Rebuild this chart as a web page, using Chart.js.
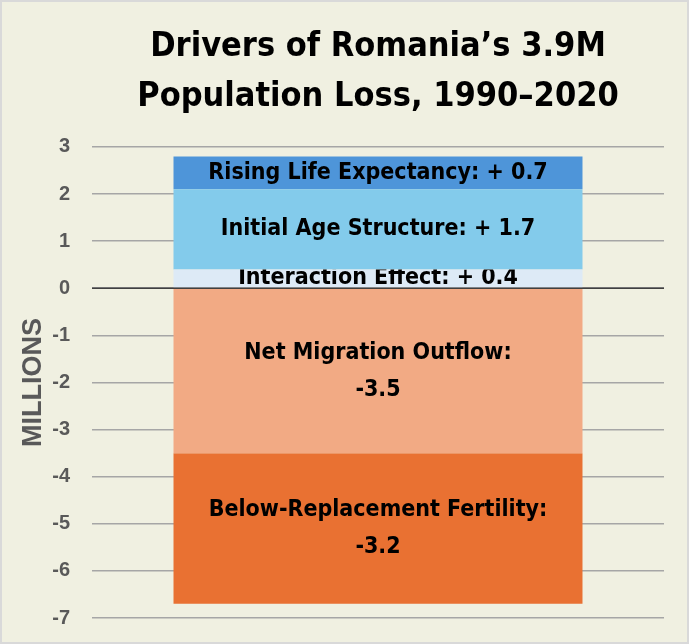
<!DOCTYPE html>
<html>
<head>
<meta charset="utf-8">
<script src="https://cdn.jsdelivr.net/npm/chart.js@4.4.1/dist/chart.umd.min.js"></script>
<style>
  html, body { margin: 0; padding: 0; background: #ffffff; }
  #wrap {
    width: 689px; height: 644px; box-sizing: border-box;
    border: 2px solid #d9d9d9; background: #f0f0e1;
  }
  canvas { display: block; }
</style>
</head>
<body>
<div id="wrap"><canvas id="myChart" width="685" height="640"></canvas></div>
<script>
// data (millions of people, 1990-2020)
var categories = ['Romania 1990–2020'];
var seriesNames = [
    'Interaction Effect',
    'Initial Age Structure',
    'Rising Life Expectancy',
    'Net Migration Outflow',
    'Below-Replacement Fertility'
];
var seriesValues = [0.4, 1.7, 0.7, -3.5, -3.2];
var seriesColors = ['#ddeaf6', '#83cbeb', '#4e95d9', '#f2aa84', '#e97132'];
var yMin = -7, yMax = 3, yStep = 1;

var narrow = "'Liberation Sans Narrow', 'DejaVu Sans Condensed', 'Liberation Sans', sans-serif";
var plain = "'Liberation Sans', Arial, sans-serif";

function labelLines(name, v) {
    if (v > 0) return [name + ': + ' + v.toFixed(1)];
    return [name + ':', v.toFixed(1)];
}

var datasets = seriesNames.map(function (name, i) {
    return {
        label: name,
        data: [seriesValues[i]],
        backgroundColor: seriesColors[i],
        borderWidth: 0,
        categoryPercentage: 1,
        barPercentage: 0.715
    };
});

// text inside each segment, clipped to the segment
var segmentLabels = {
    id: 'segmentLabels',
    afterDatasetsDraw: function (chart) {
        var ctx = chart.ctx;
        chart.data.datasets.forEach(function (ds, i) {
            var bar = chart.getDatasetMeta(i).data[0];
            var top = Math.min(bar.y, bar.base), bottom = Math.max(bar.y, bar.base);
            var lines = labelLines(ds.label, ds.data[0]);
            var lh = 37;
            var cy = (top + bottom) / 2;
            ctx.save();
            ctx.beginPath();
            ctx.rect(bar.x - bar.width / 2, top, bar.width, bottom - top);
            ctx.clip();
            ctx.fillStyle = '#000000';
            ctx.font = 'bold 23px ' + narrow;
            ctx.textAlign = 'center';
            ctx.textBaseline = 'middle';
            lines.forEach(function (t, k) {
                ctx.fillText(t, bar.x, cy + (k - (lines.length - 1) / 2) * lh);
            });
            ctx.restore();
        });
        // zero line on top of the bars
        var ys = chart.scales.y, area = chart.chartArea;
        var y0 = ys.getPixelForValue(0);
        ctx.save();
        ctx.strokeStyle = '#404040';
        ctx.lineWidth = 1.5;
        ctx.beginPath();
        ctx.moveTo(area.left, y0);
        ctx.lineTo(area.right, y0);
        ctx.stroke();
        ctx.restore();
    }
};

var ctx = document.getElementById('myChart').getContext('2d');
var myChart = new Chart(ctx, {
    type: 'bar',
    data: { labels: categories, datasets: datasets },
    options: {
        responsive: false,
        animation: false,
        layout: { padding: { left: 0, right: 23, bottom: 24, top: 0 } },
        plugins: {
            legend: { display: false },
            tooltip: { enabled: false },
            title: {
                display: true,
                fullSize: false,
                text: ['Drivers of Romania’s 3.9M', 'Population Loss, 1990–2020'],
                color: '#000000',
                font: { family: narrow, size: 34, weight: 'bold', lineHeight: 1.47 },
                padding: { top: 20, bottom: 25 }
            }
        },
        scales: {
            x: { stacked: true, display: false },
            y: {
                stacked: true,
                min: yMin,
                max: yMax,
                border: { display: false },
                grid: { color: '#a6a6a6', lineWidth: 1.6, drawTicks: false },
                ticks: {
                    stepSize: yStep,
                    color: '#595959',
                    padding: 22,
                    font: { family: plain, size: 20, weight: 'bold' }
                },
                title: {
                    display: true,
                    text: 'MILLIONS',
                    color: '#595959',
                    font: { family: plain, size: 27, weight: 'bold' },
                    padding: { top: 15, bottom: 6 }
                },
                afterFit: function (scale) {
                    scale.width = 90;
                    scale.paddingTop = 0;
                    scale.paddingBottom = 0;
                }
            }
        }
    },
    plugins: [segmentLabels]
});
</script>
</body>
</html>
